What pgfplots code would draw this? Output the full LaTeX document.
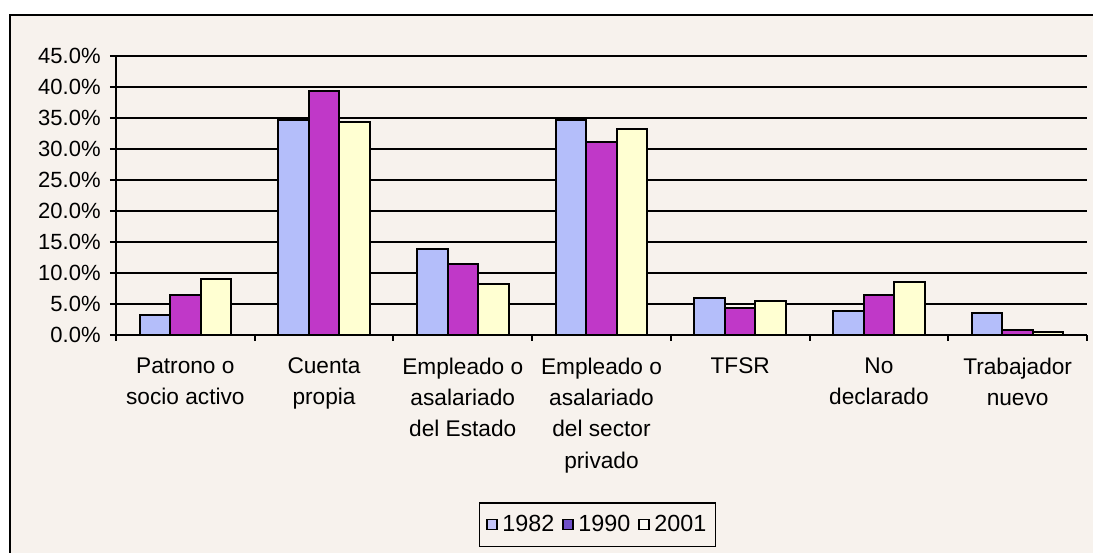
\documentclass[border=0pt]{standalone}
\usepackage{pgfplots}
\pgfplotsset{compat=1.18}
\usepackage{fontspec}
\setmainfont{Liberation Sans}
\definecolor{bgcream}{RGB}{247,242,237}
\definecolor{c82}{RGB}{180,190,250}
\definecolor{c90}{RGB}{192,56,200}
\definecolor{c01}{RGB}{255,255,210}
\definecolor{l82}{RGB}{196,196,248}
\definecolor{l90}{RGB}{112,80,200}
\definecolor{l01}{RGB}{252,252,245}

\begin{document}
\begin{tikzpicture}
% page 1093 x 553 px, 1px = 0.75pt
\path[use as bounding box, fill=white] (0pt,0pt) rectangle (819.75pt,414.75pt);
\fill[bgcream] (7.5pt,0pt) rectangle (819.75pt,403.5pt);
\draw[black, line width=1.8pt] (7.5pt,0pt) -- (7.5pt,403.5pt) -- (819.75pt,403.5pt);
\begin{axis}[
  at={(87pt,163.5pt)}, anchor=south west,
  width=728.25pt, height=209.25pt, scale only axis,
  ybar=0pt, bar width=22.9pt,
  xmin=-0.5, xmax=6.5, ymin=0, ymax=45,
  axis x line*=bottom, axis y line*=left,
  axis line style={black, line width=1.7pt},
  xtick={0,...,6},
  xticklabels={{Patrono o\\socio activo},{Cuenta\\propia},{Empleado o\\asalariado\\del Estado},{Empleado o\\asalariado\\del sector\\privado},{TFSR},{No\\declarado},{Trabajador\\nuevo}},
  minor xtick={-0.5,0.5,...,6.5},
  major x tick style={draw=none},
  minor x tick style={black, line width=1.4pt},
  ytick={0,5,...,45},
  yticklabel={\pgfmathprintnumber[fixed,fixed zerofill,precision=1]{\tick}\%},
  /pgf/number format/assume math mode=true,
  tick align=outside, major tick length=4.5pt, minor tick length=4.5pt,
  y tick style={black, line width=1.4pt},
  ymajorgrids, grid style={black, line width=1.7pt},
  yticklabel style={font=\fontsize{16.5}{18}\selectfont, xshift=-3.5pt},
  xticklabel style={align=center, anchor=north, yshift=-9pt, font=\fontsize{17}{23.5}\selectfont},
  legend columns=3,
  legend style={at={(0.496,-0.68)}, anchor=center, draw=black, line width=1pt,
    fill=bgcream, font=\fontsize{17.5}{19}\selectfont, inner xsep=5pt, inner ysep=7.5pt,
    /tikz/every odd column/.append style={column sep=1.5pt},
    /tikz/every even column/.append style={column sep=4pt}},
]
\addplot[fill=c82, draw=black, line width=1.5pt,
  legend image code/.code={\draw[fill=l82, draw=black, line width=1pt] (0pt,-3.8pt) rectangle (7.6pt,3.8pt);}]
  coordinates {(0,3.3) (1,34.7) (2,13.8) (3,34.7) (4,5.9) (5,3.9) (6,3.6)};
\addplot[fill=c90, draw=black, line width=1.5pt,
  legend image code/.code={\draw[fill=l90, draw=black, line width=1pt] (0pt,-3.8pt) rectangle (7.6pt,3.8pt);}]
  coordinates {(0,6.4) (1,39.3) (2,11.4) (3,31.2) (4,4.4) (5,6.4) (6,0.8)};
\addplot[fill=c01, draw=black, line width=1.5pt,
  legend image code/.code={\draw[fill=l01, draw=black, line width=1pt] (0pt,-3.8pt) rectangle (7.6pt,3.8pt);}]
  coordinates {(0,9.1) (1,34.3) (2,8.3) (3,33.2) (4,5.5) (5,8.6) (6,0.5)};
\legend{1982,1990,2001}
\end{axis}
\end{tikzpicture}
\end{document}
